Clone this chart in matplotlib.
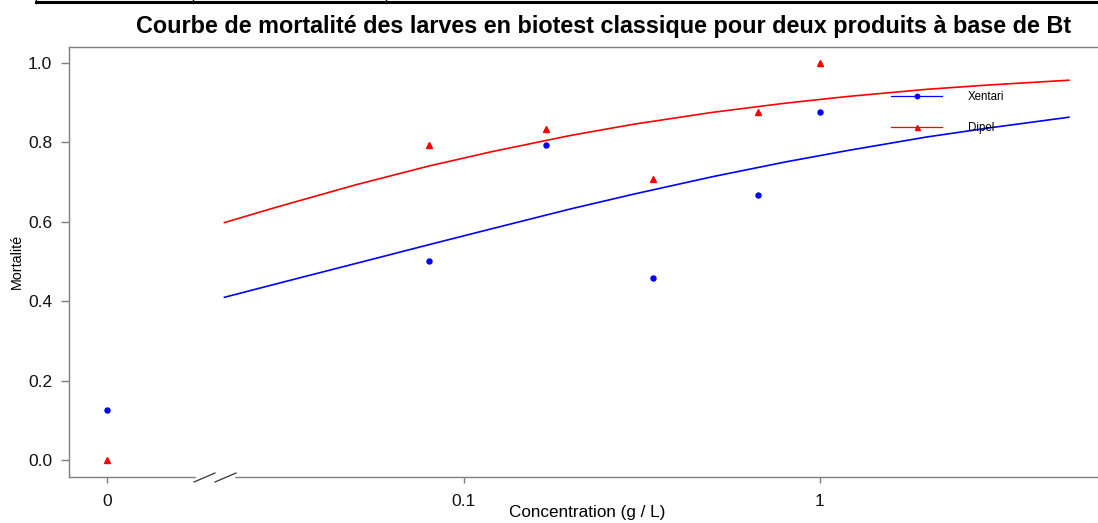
import matplotlib
matplotlib.use("Agg")
import matplotlib.pyplot as plt
from matplotlib.lines import Line2D
import matplotlib.transforms as mtransforms

# ---- data ----
conc = [0.08, 0.17, 0.34, 0.67, 1.0]          # g/L
control_pos = 0.01                             # where the "0" dose is drawn (broken axis)
xentari_ctrl = 0.125
dipel_ctrl = 0.0
xentari = [0.500, 0.792, 0.458, 0.667, 0.875]
dipel = [0.792, 0.833, 0.708, 0.875, 1.000]

# fitted dose-response curves
curve_x = [0.0212, 0.03, 0.05, 0.08, 0.12, 0.2, 0.3, 0.5, 0.8, 1.2, 2.0, 3.0, 5.04]
xentari_curve = [0.409, 0.444, 0.495, 0.542, 0.582, 0.632, 0.669, 0.713, 0.750, 0.779, 0.813, 0.836, 0.863]
dipel_curve = [0.597, 0.637, 0.693, 0.740, 0.776, 0.817, 0.845, 0.875, 0.898, 0.915, 0.933, 0.944, 0.956]

xtick_pos = [0.01, 0.1, 1]
xtick_labels = ["0", "0.1", "1"]
yticks = [0.0, 0.2, 0.4, 0.6, 0.8, 1.0]

title = "Courbe de mortalité des larves en biotest classique pour deux produits à base de Bt"
series_names = ["Xentari", "Dipel"]
blue = "#0000FF"
red = "#FF0000"
gray = "#7f7f7f"

W, H = 1098, 523
fig = plt.figure(figsize=(W / 100, H / 100), dpi=100)
fig.patch.set_facecolor("white")
plt.rcParams["font.family"] = ["Liberation Sans", "DejaVu Sans"]

def px(x0, y0, x1, y1):
    return [x0 / W, 1 - y1 / H, (x1 - x0) / W, (y1 - y0) / H]

ax = fig.add_axes(px(69, 47, 1108, 477))
ax.set_xscale("log")
ax.set_xlim(10 ** -2.108, 10 ** 0.81)
ax.set_ylim(-0.0428, 1.0395)

# curves
ax.plot(curve_x, xentari_curve, color=blue, lw=1.2, solid_capstyle="butt")
ax.plot(curve_x, dipel_curve, color=red, lw=1.2, solid_capstyle="butt")
# points
ax.plot([control_pos] + conc, [xentari_ctrl] + xentari, ls="none", marker="o",
        ms=3.6, color=blue, mec=blue)
ax.plot([control_pos] + conc, [dipel_ctrl] + dipel, ls="none", marker="^",
        ms=4.2, color=red, mec=red)

# spines / ticks
for s in ["top", "left", "bottom", "right"]:
    ax.spines[s].set_color(gray)
    ax.spines[s].set_linewidth(1.0)
ax.set_xticks(xtick_pos)
ax.set_xticklabels(xtick_labels)
ax.xaxis.set_minor_locator(matplotlib.ticker.NullLocator())
ax.set_yticks(yticks)
ax.set_yticklabels([f"{v:.1f}" for v in yticks])
ax.tick_params(axis="both", colors=gray, labelcolor="#111111", width=1.0)
ax.tick_params(axis="y", length=6, pad=6, labelsize=12.5)
ax.tick_params(axis="x", length=4, pad=8, labelsize=12.5)

fig.text(17 / W, 1 - 261 / H, "Mortalité", fontsize=10.3, rotation=90, ha="center", va="center")
fig.text(587 / W, 1 - 513 / H, "Concentration (g / L)", fontsize=12.3, ha="center", va="center")
fig.text(604 / W, 1 - 26 / H, title, fontsize=16.8, fontweight="bold", ha="center", va="center")

# axis break marks
trans = mtransforms.blended_transform_factory(fig.transFigure, fig.transFigure)
def fx(v):
    return v / W
def fy(v):
    return 1 - v / H
fig.add_artist(Line2D([fx(197), fx(233)], [fy(477), fy(477)], color="white", lw=2.5, transform=trans))
fig.add_artist(Line2D([fx(194), fx(215)], [fy(482), fy(473)], color="#333333", lw=0.9, transform=trans))
fig.add_artist(Line2D([fx(215), fx(236)], [fy(482), fy(473)], color="#333333", lw=0.9, transform=trans))

# legend
handles = [
    Line2D([], [], color=blue, lw=0.9, marker="o", ms=3.2, mec=blue),
    Line2D([], [], color=red, lw=0.9, marker="^", ms=3.6, mec=red),
]
ax.legend(handles, series_names, loc="upper left", bbox_to_anchor=((886 - 69) / 1039, 1 - (86 - 47) / 430),
          frameon=False, fontsize=8.3, handlelength=4.5, handletextpad=2.2, labelspacing=1.65,
          numpoints=1, borderaxespad=0)

# document table border at the top
fig.add_artist(Line2D([fx(36), 1.0], [fy(1.5), fy(1.5)], color="black", lw=2.2, transform=trans))
fig.add_artist(Line2D([fx(36), fx(36)], [fy(0), fy(3)], color="black", lw=1, transform=trans))
fig.add_artist(Line2D([fx(193), fx(193)], [fy(0), fy(3)], color="black", lw=1, transform=trans))
fig.add_artist(Line2D([fx(386), fx(386)], [fy(0), fy(3)], color="black", lw=1, transform=trans))

fig.savefig("out.png", dpi=100, facecolor="white")
